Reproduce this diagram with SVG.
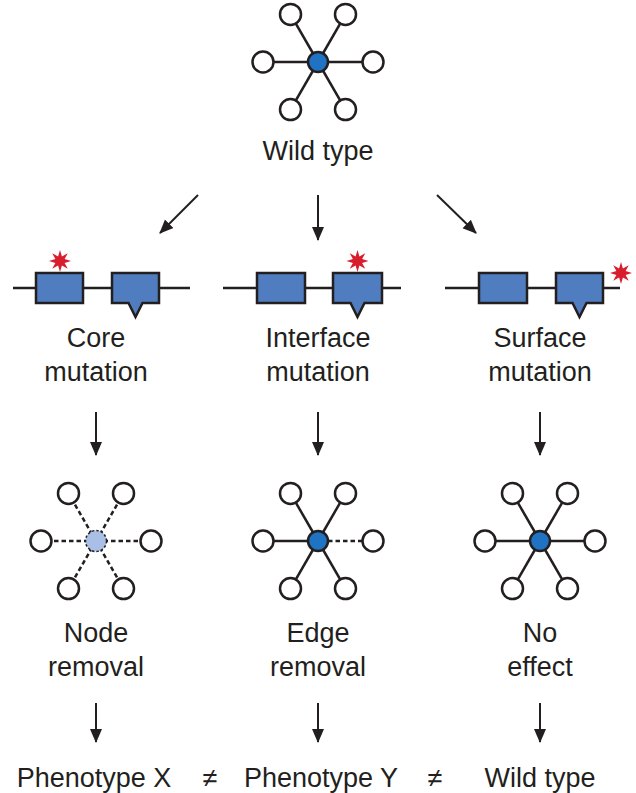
<svg xmlns="http://www.w3.org/2000/svg" xmlns:xlink="http://www.w3.org/1999/xlink" width="636" height="793" viewBox="0 0 636 793">
  <style>
    .lbl { font-family: "Liberation Sans", Arial, sans-serif; font-size: 27px; fill: #231f20; text-anchor: middle; }
    .edge { stroke: #231f20; stroke-width: 2.5; fill: none; }
    .dash { stroke: #231f20; stroke-width: 2.5; fill: none; stroke-dasharray: 4.5 3; }
    .leaf { fill: #ffffff; stroke: #231f20; stroke-width: 2.5; }
    .hub { fill: #1f73c2; stroke: #231f20; stroke-width: 2.5; }
    .hubgone { fill: #a9bfe6; stroke: #231f20; stroke-width: 1.5; stroke-dasharray: 2.5 2; }
    .gline { stroke: #231f20; stroke-width: 2.5; fill: none; }
    .gbox { fill: #4f7dbf; stroke: #231f20; stroke-width: 2.5; stroke-linejoin: miter; }
    .star { fill: #d81e2c; }
    .arrow { stroke: #231f20; stroke-width: 2; fill: none; marker-end: url(#ah); }
  </style>
  <defs>
    <marker id="ah" markerUnits="userSpaceOnUse" markerWidth="14" markerHeight="14" viewBox="0 0 14 14" refX="13" refY="7" orient="auto">
      <path d="M0,1 L14,7 L0,13 Z" fill="#231f20"/>
    </marker>
    <polygon id="starShape" points="0,-11 1.91,-4.62 7.78,-7.78 4.62,-1.91 11,0 4.62,1.91 7.78,7.78 1.91,4.62 0,11 -1.91,4.62 -7.78,7.78 -4.62,1.91 -11,0 -4.62,-1.91 -7.78,-7.78 -1.91,-4.62"/>
  </defs>

  <!-- Wild type network -->
  <g id="wildtype-network" transform="translate(318,62)">
    <line class="edge" x1="0" y1="0" x2="-55" y2="0"/>
    <line class="edge" x1="0" y1="0" x2="55" y2="0"/>
    <line class="edge" x1="0" y1="0" x2="-27.5" y2="-47.6"/>
    <line class="edge" x1="0" y1="0" x2="27.5" y2="-47.6"/>
    <line class="edge" x1="0" y1="0" x2="-27.5" y2="47.6"/>
    <line class="edge" x1="0" y1="0" x2="27.5" y2="47.6"/>
    <circle class="leaf" cx="-55" cy="0" r="10.5"/>
    <circle class="leaf" cx="55" cy="0" r="10.5"/>
    <circle class="leaf" cx="-27.5" cy="-47.6" r="10.5"/>
    <circle class="leaf" cx="27.5" cy="-47.6" r="10.5"/>
    <circle class="leaf" cx="-27.5" cy="47.6" r="10.5"/>
    <circle class="leaf" cx="27.5" cy="47.6" r="10.5"/>
    <circle class="hub" cx="0" cy="0" r="10"/>
  </g>
  <g id="wildtype-label"><text class="lbl" x="318" y="160">Wild type</text></g>

  <!-- Gene: core mutation -->
  <g id="gene-core">
    <line class="gline" x1="13" y1="288" x2="190" y2="288"/>
    <rect class="gbox" x="36" y="273" width="47" height="30"/>
    <path class="gbox" d="M112,273 H159 V303 H142.5 L135.5,317 L128.5,303 H112 Z"/>
    <use xlink:href="#starShape" href="#starShape" class="star" x="60" y="261"/>
    <text class="lbl" x="96" y="347">Core</text>
    <text class="lbl" x="96" y="381">mutation</text>
  </g>

  <!-- Gene: interface mutation -->
  <g id="gene-interface">
    <line class="gline" x1="223" y1="288" x2="401" y2="288"/>
    <rect class="gbox" x="257" y="273" width="48" height="30"/>
    <path class="gbox" d="M333,273 H382 V303 H364.5 L357.5,317 L350.5,303 H333 Z"/>
    <use xlink:href="#starShape" href="#starShape" class="star" x="357.5" y="261"/>
    <text class="lbl" x="318" y="347">Interface</text>
    <text class="lbl" x="318" y="381">mutation</text>
  </g>

  <!-- Gene: surface mutation -->
  <g id="gene-surface">
    <line class="gline" x1="445" y1="288" x2="620" y2="288"/>
    <rect class="gbox" x="479" y="273" width="48" height="30"/>
    <path class="gbox" d="M556,273 H603 V303 H586.5 L579.5,317 L572.5,303 H556 Z"/>
    <use xlink:href="#starShape" href="#starShape" class="star" x="621" y="273"/>
    <text class="lbl" x="540" y="347">Surface</text>
    <text class="lbl" x="540" y="381">mutation</text>
  </g>

  <!-- Node removal network -->
  <g id="node-removal" transform="translate(96,541)">
    <line class="dash" x1="0" y1="0" x2="-55" y2="0"/>
    <line class="dash" x1="0" y1="0" x2="55" y2="0"/>
    <line class="dash" x1="0" y1="0" x2="-27.5" y2="-47.6"/>
    <line class="dash" x1="0" y1="0" x2="27.5" y2="-47.6"/>
    <line class="dash" x1="0" y1="0" x2="-27.5" y2="47.6"/>
    <line class="dash" x1="0" y1="0" x2="27.5" y2="47.6"/>
    <circle class="leaf" cx="-55" cy="0" r="10.5"/>
    <circle class="leaf" cx="55" cy="0" r="10.5"/>
    <circle class="leaf" cx="-27.5" cy="-47.6" r="10.5"/>
    <circle class="leaf" cx="27.5" cy="-47.6" r="10.5"/>
    <circle class="leaf" cx="-27.5" cy="47.6" r="10.5"/>
    <circle class="leaf" cx="27.5" cy="47.6" r="10.5"/>
    <circle class="hubgone" cx="0" cy="0" r="10.5"/>
  </g>
  <g id="node-removal-label">
    <text class="lbl" x="96" y="642">Node</text>
    <text class="lbl" x="96" y="676">removal</text>
  </g>

  <!-- Edge removal network -->
  <g id="edge-removal" transform="translate(318,541)">
    <line class="edge" x1="0" y1="0" x2="-55" y2="0"/>
    <line class="dash" x1="10" y1="0" x2="55" y2="0"/>
    <line class="edge" x1="0" y1="0" x2="-27.5" y2="-47.6"/>
    <line class="edge" x1="0" y1="0" x2="27.5" y2="-47.6"/>
    <line class="edge" x1="0" y1="0" x2="-27.5" y2="47.6"/>
    <line class="edge" x1="0" y1="0" x2="27.5" y2="47.6"/>
    <circle class="leaf" cx="-55" cy="0" r="10.5"/>
    <circle class="leaf" cx="55" cy="0" r="10.5"/>
    <circle class="leaf" cx="-27.5" cy="-47.6" r="10.5"/>
    <circle class="leaf" cx="27.5" cy="-47.6" r="10.5"/>
    <circle class="leaf" cx="-27.5" cy="47.6" r="10.5"/>
    <circle class="leaf" cx="27.5" cy="47.6" r="10.5"/>
    <circle class="hub" cx="0" cy="0" r="10"/>
  </g>
  <g id="edge-removal-label">
    <text class="lbl" x="318" y="642">Edge</text>
    <text class="lbl" x="318" y="676">removal</text>
  </g>

  <!-- No effect network -->
  <g id="no-effect" transform="translate(540,541)">
    <line class="edge" x1="0" y1="0" x2="-55" y2="0"/>
    <line class="edge" x1="0" y1="0" x2="55" y2="0"/>
    <line class="edge" x1="0" y1="0" x2="-27.5" y2="-47.6"/>
    <line class="edge" x1="0" y1="0" x2="27.5" y2="-47.6"/>
    <line class="edge" x1="0" y1="0" x2="-27.5" y2="47.6"/>
    <line class="edge" x1="0" y1="0" x2="27.5" y2="47.6"/>
    <circle class="leaf" cx="-55" cy="0" r="10.5"/>
    <circle class="leaf" cx="55" cy="0" r="10.5"/>
    <circle class="leaf" cx="-27.5" cy="-47.6" r="10.5"/>
    <circle class="leaf" cx="27.5" cy="-47.6" r="10.5"/>
    <circle class="leaf" cx="-27.5" cy="47.6" r="10.5"/>
    <circle class="leaf" cx="27.5" cy="47.6" r="10.5"/>
    <circle class="hub" cx="0" cy="0" r="10"/>
  </g>
  <g id="no-effect-label">
    <text class="lbl" x="540" y="642">No</text>
    <text class="lbl" x="540" y="676">effect</text>
  </g>

  <!-- Outcomes -->
  <g id="phenotype-x"><text class="lbl" x="94" y="787">Phenotype X</text></g>
  <g id="neq-1"><text class="lbl" x="210" y="787">≠</text></g>
  <g id="phenotype-y"><text class="lbl" x="321" y="787">Phenotype Y</text></g>
  <g id="neq-2"><text class="lbl" x="435" y="787">≠</text></g>
  <g id="wildtype-outcome"><text class="lbl" x="540" y="787">Wild type</text></g>

  <!-- Connectors -->
  <g id="connectors">
    <line class="arrow" x1="198" y1="195" x2="160" y2="233"/>
    <line class="arrow" x1="318" y1="195" x2="318" y2="240"/>
    <line class="arrow" x1="437" y1="195" x2="476" y2="233"/>
    <line class="arrow" x1="96" y1="412" x2="96" y2="455"/>
    <line class="arrow" x1="318" y1="412" x2="318" y2="455"/>
    <line class="arrow" x1="540" y1="412" x2="540" y2="455"/>
    <line class="arrow" x1="96" y1="703" x2="96" y2="742"/>
    <line class="arrow" x1="318" y1="703" x2="318" y2="742"/>
    <line class="arrow" x1="540" y1="703" x2="540" y2="742"/>
  </g>
</svg>
